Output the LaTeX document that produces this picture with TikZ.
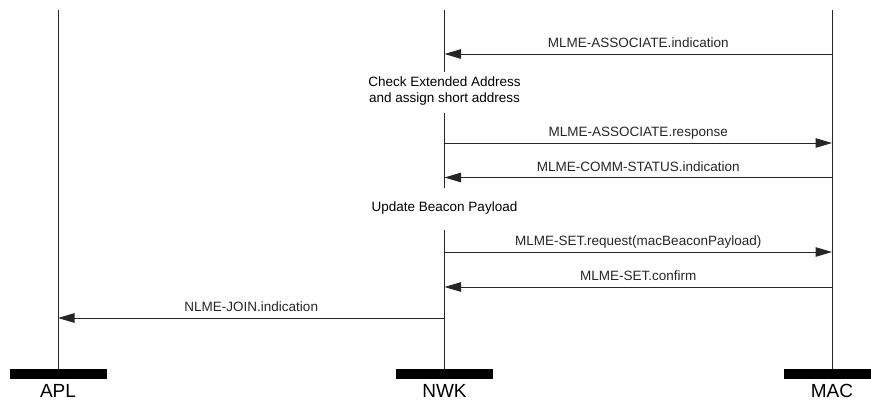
\documentclass[tikz,border=0pt]{standalone}
\usepackage{fontspec}
\setmainfont{Liberation Sans}
\usetikzlibrary{arrows.meta}

\begin{document}
\begin{tikzpicture}[x=1pt, y=-1pt,
  life/.style={line width=1pt, black!85},
  msg/.style={line width=1pt, black!85, -{Triangle[length=16.5pt, width=9.5pt]}},
  lbl/.style={anchor=base, inner sep=0pt, yshift=6.5pt, font=\fontsize{13.5}{16}\selectfont},
  note/.style={align=center, inner sep=0pt, font=\fontsize{13.5}{16}\selectfont},
  bar/.style={fill=black, draw=none, inner sep=0pt, minimum width=97pt, minimum height=10.5pt},
  entity/.style={anchor=base, inner sep=0pt, font=\fontsize{19}{22}\selectfont}
]
\useasboundingbox (0,0) rectangle (871,400);

% entity bars and names
\node[bar] (aplbar) at (58,374) {};
\node[bar] (nwkbar) at (444.5,374) {};
\node[bar] (macbar) at (832,374) {};
\node[entity] (apllbl) at (58,397.6) {APL};
\node[entity] (nwklbl) at (444.5,397.6) {NWK};
\node[entity] (maclbl) at (832,397.6) {MAC};

% lifeline tops and gaps
\coordinate (apl) at (58,10);
\coordinate (nwk) at (444.5,10);
\coordinate (mac) at (832,10);
\coordinate (nwkA) at (444.5,72);
\coordinate (nwkB) at (444.5,113);
\coordinate (nwkC) at (444.5,188);
\coordinate (nwkD) at (444.5,230);

\draw[life] (apl) -- (aplbar.north);
\draw[life] (mac) -- (macbar.north);
\draw[life] (nwk) -- (nwkA);
\draw[life] (nwkB) -- (nwkC);
\draw[life] (nwkD) -- (nwkbar.north);

% local processing notes on NWK
\node[note] (chk) at (444.5,91) {Check Extended Address\\and assign short address};
\node[note] (upd) at (444.5,208) {Update Beacon Payload};

% messages
\draw[msg] (mac |- 0,54) -- node[lbl] {MLME-ASSOCIATE.indication} (nwk |- 0,54);
\draw[msg] (nwk |- 0,143) -- node[lbl] {MLME-ASSOCIATE.response} (mac |- 0,143);
\draw[msg] (mac |- 0,177.5) -- node[lbl] {MLME-COMM-STATUS.indication} (nwk |- 0,177.5);
\draw[msg] (nwk |- 0,252) -- node[lbl] {MLME-SET.request(macBeaconPayload)} (mac |- 0,252);
\draw[msg] (mac |- 0,287) -- node[lbl] {MLME-SET.confirm} (nwk |- 0,287);
\draw[msg] (nwk |- 0,318) -- node[lbl] {NLME-JOIN.indication} (apl |- 0,318);
\end{tikzpicture}
\end{document}
